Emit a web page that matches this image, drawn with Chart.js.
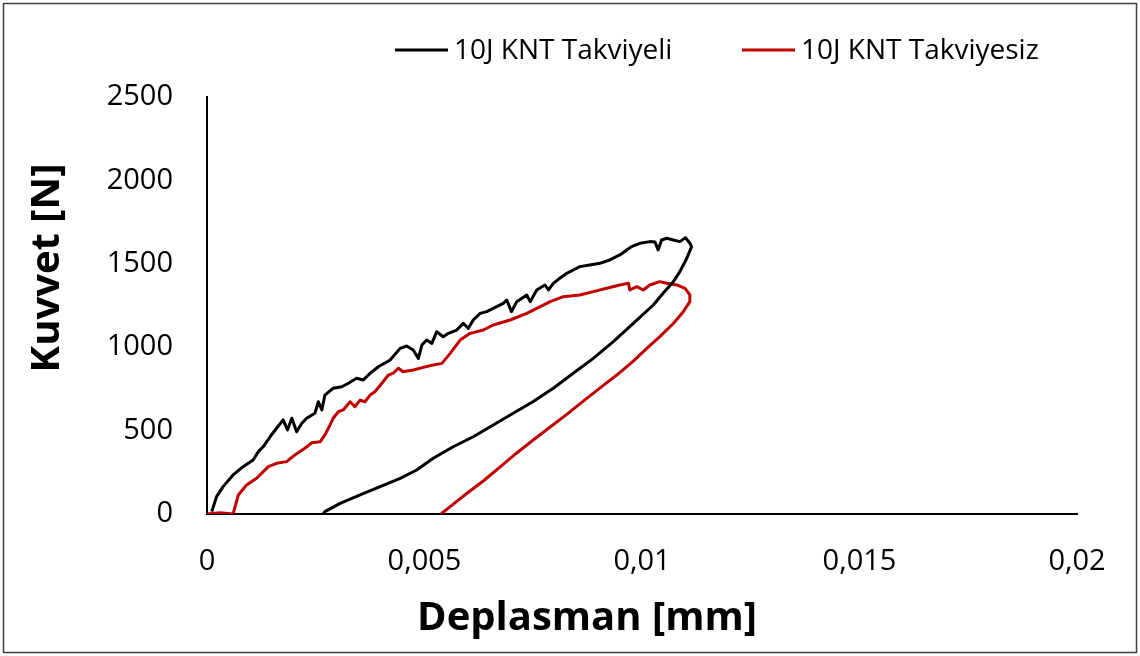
<!DOCTYPE html>
<html>
<head>
<meta charset="utf-8">
<script src="https://cdn.jsdelivr.net/npm/chart.js@4/dist/chart.umd.min.js"></script>
<style>
html,body{margin:0;padding:0;background:#fff;}
#wrap{width:1140px;height:656px;position:relative;}
</style>
</head>
<body>
<div id="wrap"><canvas id="c" width="1140" height="656"></canvas></div>
<script>
// ---- Data ----
const seriesNames = ['10J KNT Takviyeli', '10J KNT Takviyesiz'];
const xTitle = 'Deplasman [mm]';
const yTitle = 'Kuvvet [N]';
const xTickLabels = ['0', '0,005', '0,01', '0,015', '0,02'];
const yTickLabels = ['0', '500', '1000', '1500', '2000', '2500'];

// 10J KNT Takviyeli (black): loading then unloading
const takviyeliDisp = [0.00011, 0.00022, 0.00037, 0.0006, 0.00083, 0.00106, 0.00118, 0.00129, 0.00145, 0.0016,
  0.00175, 0.00185, 0.00195, 0.00206, 0.00218, 0.00229, 0.00248, 0.00256, 0.00264, 0.00271,
  0.0029, 0.0031, 0.00325, 0.00344, 0.00359, 0.00375, 0.00394, 0.00421, 0.00444, 0.00459,
  0.00474, 0.00486, 0.00494, 0.00505, 0.00517, 0.00528, 0.00543, 0.00555, 0.00574, 0.00589,
  0.00601, 0.00612, 0.00628, 0.00643, 0.00666, 0.00681, 0.00689, 0.007, 0.00712, 0.00735,
  0.00743, 0.00758, 0.00777, 0.00785, 0.00796, 0.00811, 0.00827, 0.00842, 0.00857, 0.0088,
  0.00903, 0.00926, 0.00949, 0.00965, 0.00976, 0.00995, 0.01018, 0.0103, 0.01037, 0.01045,
  0.01057, 0.01072, 0.01087, 0.011, 0.0111, 0.01114,
  0.01103, 0.01087, 0.01072, 0.01049, 0.01026, 0.0098, 0.00934, 0.00888, 0.00842, 0.00796,
  0.0075, 0.00704, 0.00658, 0.00612, 0.00566, 0.0052, 0.00482, 0.00444, 0.00398, 0.00352,
  0.00306, 0.00271, 0.00267];
const takviyeliForce = [14, 104, 164, 234, 284, 324, 374, 403, 463, 514,
  564, 504, 574, 493, 544, 574, 604, 673, 624, 713,
  754, 763, 784, 814, 803, 844, 883, 923, 993, 1007,
  983, 933, 1013, 1043, 1023, 1093, 1063, 1083, 1103, 1143,
  1113, 1163, 1203, 1213, 1243, 1263, 1283, 1213, 1273, 1313,
  1273, 1343, 1373, 1343, 1383, 1413, 1443, 1463, 1483, 1493,
  1503, 1523, 1553, 1583, 1603, 1623, 1633, 1631, 1583, 1643,
  1653, 1643, 1633, 1657, 1623, 1603,
  1533, 1453, 1393, 1325, 1253, 1143, 1033, 933, 844, 754,
  674, 604, 534, 463, 403, 334, 264, 214, 164, 114,
  64, 14, 0];

// 10J KNT Takviyesiz (red): loading then unloading
const takviyesizDisp = [0, 0.0003, 0.0006, 0.00072, 0.00091, 0.00114, 0.00141, 0.0016, 0.00183, 0.00202,
  0.00225, 0.00241, 0.0026, 0.00271, 0.00283, 0.0029, 0.00302, 0.00313, 0.00329, 0.0034,
  0.00352, 0.00363, 0.00375, 0.00386, 0.00402, 0.00417, 0.00428, 0.0044, 0.00451, 0.00474,
  0.00497, 0.0052, 0.0054, 0.00559, 0.00582, 0.00605, 0.00635, 0.00658, 0.00697, 0.00735,
  0.00766, 0.00789, 0.00819, 0.00857, 0.00888, 0.00919, 0.00949, 0.00969, 0.00972, 0.00988,
  0.01003, 0.01018, 0.01041, 0.01057, 0.0108, 0.01099, 0.0111, 0.0111,
  0.01095, 0.01072, 0.01041, 0.01011, 0.0098, 0.00942, 0.00903, 0.00865, 0.00827, 0.00789,
  0.0075, 0.00712, 0.00674, 0.00635, 0.00597, 0.00559, 0.00538];
const takviyesizForce = [0, 8, 0, 114, 174, 214, 284, 304, 314, 354,
  394, 427, 433, 474, 534, 574, 613, 624, 673, 643,
  683, 673, 713, 733, 784, 833, 844, 874, 853, 863,
  879, 893, 903, 963, 1043, 1083, 1103, 1133, 1163, 1203,
  1243, 1273, 1303, 1313, 1333, 1353, 1373, 1383, 1343, 1363,
  1343, 1373, 1393, 1383, 1373, 1353, 1313, 1273,
  1213, 1142, 1063, 993, 917, 833, 755, 677, 597, 522,
  444, 366, 282, 198, 123, 44, 0];

const seriesColors = ['#000000', '#C00000'];

function toPoints(xs, ys) { return xs.map((x, i) => ({x: x, y: ys[i]})); }

const FONT = '"Open Sans", "Noto Sans", sans-serif';

const decorPlugin = {
  id: 'decor',
  beforeDraw(chart) {
    const ctx = chart.ctx;
    ctx.save();
    ctx.fillStyle = '#ffffff';
    ctx.fillRect(0, 0, chart.width, chart.height);
    ctx.restore();
  },
  afterDraw(chart) {
    const ctx = chart.ctx;
    ctx.save();
    // outer frame
    ctx.strokeStyle = '#404040';
    ctx.lineWidth = 1.5;
    ctx.strokeRect(3.5, 3.5, 1133, 649);
    // axis titles
    ctx.fillStyle = '#000';
    ctx.font = 'bold 40px ' + FONT;
    ctx.textAlign = 'center';
    ctx.textBaseline = 'alphabetic';
    ctx.fillText(xTitle, 587, 630);
    ctx.save();
    ctx.translate(59, 268);
    ctx.rotate(-Math.PI / 2);
    ctx.fillText(yTitle, 0, 0);
    ctx.restore();
    // legend
    const legendX = [395, 742];
    ctx.font = '28px ' + FONT;
    ctx.textAlign = 'left';
    chart.data.datasets.forEach((ds, i) => {
      ctx.strokeStyle = ds.borderColor;
      ctx.lineWidth = 3;
      ctx.beginPath();
      ctx.moveTo(legendX[i], 50);
      ctx.lineTo(legendX[i] + 53, 50);
      ctx.stroke();
      ctx.fillStyle = '#000';
      ctx.fillText(ds.label, legendX[i] + 59, 59);
    });
    ctx.restore();
  }
};

new Chart(document.getElementById('c'), {
  type: 'scatter',
  data: {
    datasets: [
      {label: seriesNames[0], data: toPoints(takviyeliDisp, takviyeliForce), showLine: true,
       borderColor: seriesColors[0], backgroundColor: seriesColors[0], borderWidth: 3,
       pointRadius: 0, pointHoverRadius: 0, tension: 0, fill: false, borderJoinStyle: 'round'},
      {label: seriesNames[1], data: toPoints(takviyesizDisp, takviyesizForce), showLine: true,
       borderColor: seriesColors[1], backgroundColor: seriesColors[1], borderWidth: 3,
       pointRadius: 0, pointHoverRadius: 0, tension: 0, fill: false, borderJoinStyle: 'round'}
    ]
  },
  options: {
    responsive: false,
    animation: false,
    devicePixelRatio: 1,
    layout: {padding: {top: 97, right: 63, left: 0, bottom: 0}},
    plugins: {legend: {display: false}, tooltip: {enabled: false}},
    scales: {
      x: {
        type: 'linear', min: 0, max: 0.02,
        ticks: {stepSize: 0.005, autoSkip: false, maxRotation: 0, minRotation: 0,
          callback: (v, i) => xTickLabels[i], color: '#000',
          font: {family: FONT, size: 29}, padding: 30},
        grid: {display: false, drawTicks: false},
        border: {display: true, color: '#000', width: 2},
        afterFit: s => { s.height = 142; }
      },
      y: {
        type: 'linear', min: 0, max: 2500,
        ticks: {stepSize: 500, autoSkip: false,
          callback: (v, i) => yTickLabels[i], color: '#000',
          font: {family: FONT, size: 29}, padding: 34},
        grid: {display: false, drawTicks: false},
        border: {display: true, color: '#000', width: 2},
        afterFit: s => { s.width = 207; }
      }
    }
  },
  plugins: [decorPlugin]
});
</script>
</body>
</html>
